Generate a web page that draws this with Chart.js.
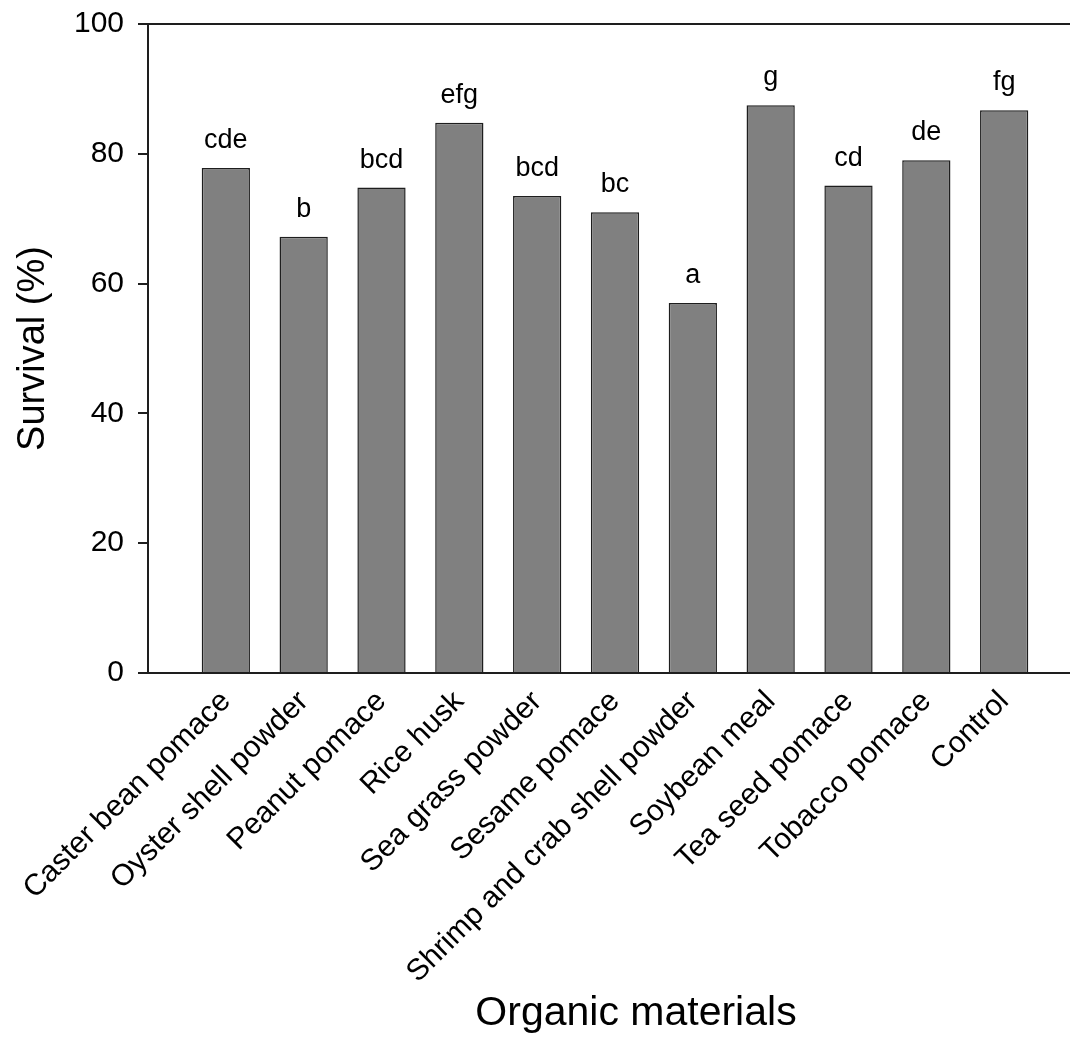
<!DOCTYPE html>
<html>
<head>
<meta charset="utf-8">
<script src="https://cdn.jsdelivr.net/npm/chart.js@4.4.1/dist/chart.umd.min.js"></script>
<style>
  html, body { margin: 0; padding: 0; background: #fff; overflow: hidden; }
  #wrap { position: relative; width: 1082px; height: 1042px; }
</style>
</head>
<body>
<div id="wrap"><canvas id="chart"></canvas></div>
<script>
const materials = [
  "Caster bean pomace", "Oyster shell powder", "Peanut pomace", "Rice husk",
  "Sea grass powder", "Sesame pomace", "Shrimp and crab shell powder",
  "Soybean meal", "Tea seed pomace", "Tobacco pomace", "Control",
];
const survival = [77.8, 67.2, 74.8, 84.8, 73.5, 71.0, 57.0, 87.5, 75.1, 79.0, 86.7];
const letters = ["cde", "b", "bcd", "efg", "bcd", "bc", "a", "g", "cd", "de", "fg"];
const yTicks = [0, 20, 40, 60, 80, 100];

const FONT = "'Liberation Sans', Arial, sans-serif";
const INK = "#1e1e1e";

// one empty slot each side so the first bar sits a full step from the y axis
const labels = ["", ...materials, ""];
const values = [null, ...survival, null];
const marks = ["", ...letters, ""];

const letterPlugin = {
  id: "letters",
  afterDatasetsDraw(chart) {
    const { ctx } = chart;
    const meta = chart.getDatasetMeta(0);
    ctx.save();
    ctx.font = `27px ${FONT}`;
    ctx.fillStyle = "#000";
    ctx.textAlign = "center";
    ctx.textBaseline = "alphabetic";
    meta.data.forEach((bar, i) => {
      if (!marks[i]) return;
      ctx.fillText(marks[i], bar.x, bar.y - 20);
    });
    ctx.restore();
  },
};

const framePlugin = {
  id: "frame",
  afterDraw(chart) {
    const { ctx, chartArea: a } = chart;
    ctx.save();
    ctx.strokeStyle = INK;
    ctx.lineWidth = 2;
    ctx.beginPath();
    ctx.moveTo(a.left - 10, a.top);
    ctx.lineTo(a.right, a.top);
    ctx.stroke();
    // axis titles
    ctx.fillStyle = "#000";
    ctx.textAlign = "center";
    ctx.textBaseline = "alphabetic";
    ctx.font = `41px ${FONT}`;
    ctx.fillText("Organic materials", 636, 1025);
    ctx.translate(44, (a.top + a.bottom) / 2);
    ctx.rotate(-Math.PI / 2);
    ctx.font = `38px ${FONT}`;
    ctx.fillText("Survival (%)", 0, 0);
    ctx.restore();
  },
};

new Chart(document.getElementById("chart"), {
  type: "bar",
  data: {
    labels,
    datasets: [{
      data: values,
      backgroundColor: "#808080",
      borderColor: INK,
      borderWidth: 1.5,
      barPercentage: 0.62,
      categoryPercentage: 1,
    }],
  },
  options: {
    responsive: true,
    maintainAspectRatio: false,
    animation: false,
    layout: { padding: { top: 24, right: 0, left: 0, bottom: 0 } },
    plugins: { legend: { display: false }, tooltip: { enabled: false } },
    scales: {
      x: {
        offset: false,
        afterFit: (s) => { s.height = 369; s.paddingLeft = 0; s.paddingRight = 0; },
        grid: { display: false },
        border: { display: true, color: INK, width: 2 },
        ticks: {
          autoSkip: false,
          minRotation: 45,
          maxRotation: 45,
          padding: 3,
          color: "#000",
          font: { family: FONT, size: 30 },
        },
      },
      y: {
        min: 0,
        max: 100,
        afterFit: (s) => { s.width = 148; s.paddingTop = 0; s.paddingBottom = 0; },
        afterBuildTicks: (s) => { s.ticks = yTicks.map((v) => ({ value: v })); },
        grid: { drawOnChartArea: false, drawTicks: true, tickLength: 10, color: INK, lineWidth: 2 },
        border: { display: true, color: INK, width: 2 },
        ticks: {
          padding: 14,
          color: "#000",
          font: { family: FONT, size: 30 },
        },
      },
    },
  },
  plugins: [letterPlugin, framePlugin],
});
</script>
</body>
</html>
